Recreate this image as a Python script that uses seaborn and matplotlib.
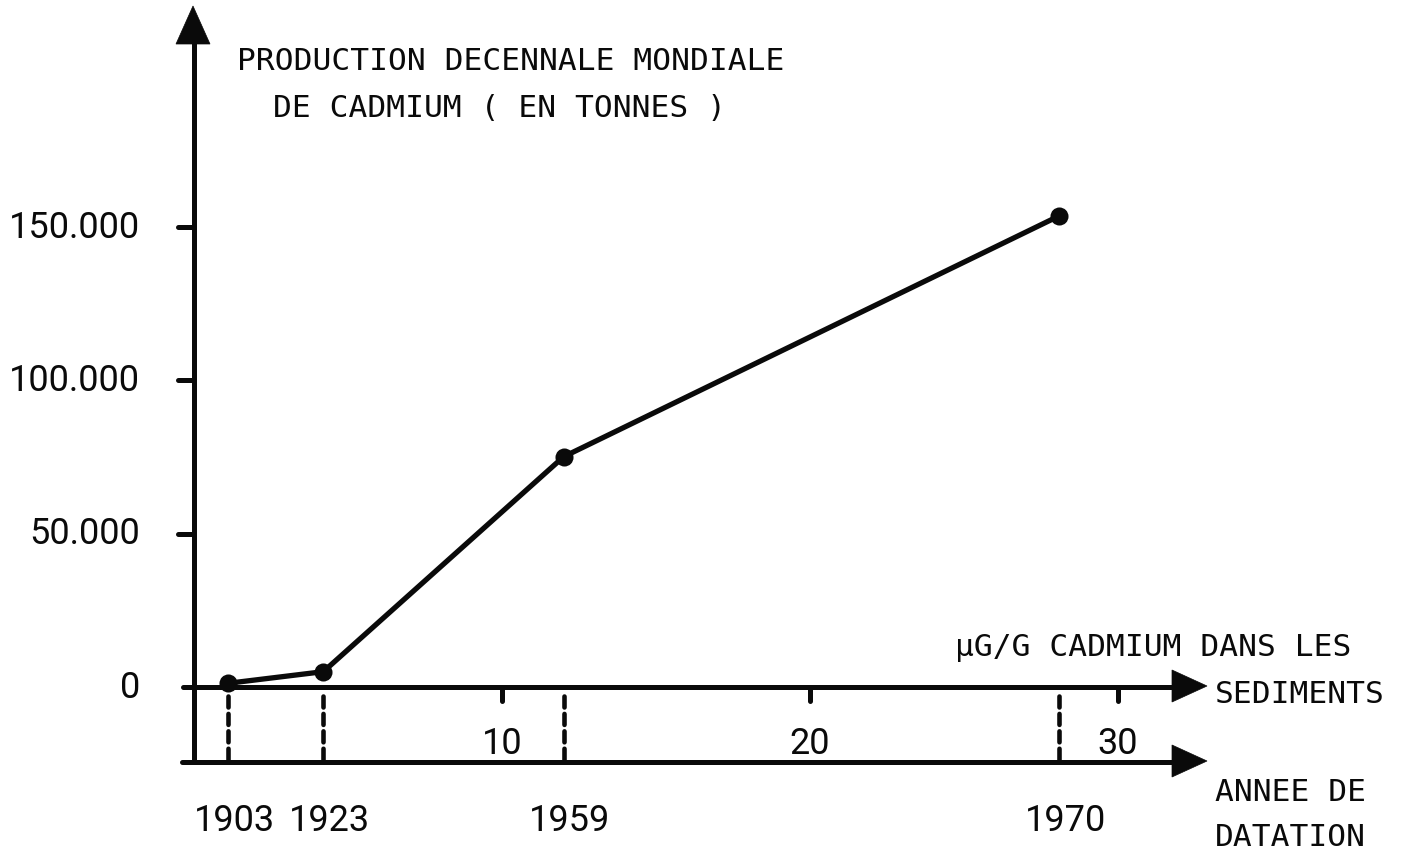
import pandas as pd
import seaborn as sns
import matplotlib.pyplot as plt
from matplotlib.patches import Polygon

# data
cadmium_sed = [1.1, 4.2, 12.0, 28.1]          # ug/g cadmium dans les sediments
production = [1200, 5000, 75000, 153500]      # production decennale (tonnes)
years = ['1903', '1923', '1959', '1970']
y_ticks = [0, 50000, 100000, 150000]
y_tick_labels = ['0', '50.000', '100.000', '150.000']
x_ticks = [10, 20, 30]
x_tick_labels = ['10', '20', '30']

df = pd.DataFrame({'sed': cadmium_sed, 'prod': production})

# picture scale (pixel of the origin, pixels per unit)
W, H = 1401, 851
X0, Y0 = 194, 687
SX = 30.8
SY = 0.00307

def dx(px):
    return (px - X0) / SX

def dy(py):
    return (Y0 - py) / SY

sns.set_theme(style='white')
num_font, num_size = 'Roboto', 26
mono = 'DejaVu Sans Mono'
mono_size = 22.5
ink = '#0a0a0a'
lw = 3.6

fig = plt.figure(figsize=(W / 100, H / 100), dpi=100)
ax = fig.add_axes([0, 0, 1, 1])
ax.set_xlim(dx(0), dx(W))
ax.set_ylim(dy(H), dy(0))
ax.axis('off')

# axes drawn by hand
ax.plot([0, 0], [dy(763), dy(40)], color=ink, lw=lw, solid_capstyle='butt')
ax.plot([dx(183), dx(1176)], [0, 0], color=ink, lw=lw, solid_capstyle='round')
year_y = dy(762)
ax.plot([dx(182), dx(1176)], [year_y, year_y], color=ink, lw=lw, solid_capstyle='round')

def head(pts):
    ax.add_patch(Polygon([(dx(a), dy(b)) for a, b in pts], closed=True,
                         facecolor=ink, edgecolor=ink, lw=0.5))

head([(193, 6), (176, 44), (210, 44)])
head([(1207, 686), (1172, 670), (1172, 702)])
head([(1207, 761), (1172, 745), (1172, 777)])

# ticks
for v in y_ticks[1:]:
    ax.plot([dx(178), 0], [v, v], color=ink, lw=lw, solid_capstyle='round')
for v in x_ticks:
    ax.plot([v, v], [0, dy(701)], color=ink, lw=lw, solid_capstyle='round')

# dashed lines down to the year axis
for x in cadmium_sed:
    ax.plot([x, x], [dy(696), dy(760)], color=ink, lw=3.3, ls=(0, (2.4, 1.4)),
            dash_capstyle='round')

# the curve
sns.lineplot(data=df, x='sed', y='prod', ax=ax, color=ink, lw=3.8,
             marker='o', markersize=13, markeredgewidth=0)

# labels
for v, lab in zip(y_ticks, y_tick_labels):
    ax.text(dx(140), v - 11 / SY, lab, ha='right', va='baseline',
            fontsize=num_size, family=num_font, color=ink)
for v, lab in zip(x_ticks, x_tick_labels):
    ax.text(v, dy(754), lab, ha='center', va='baseline',
            fontsize=num_size, family=num_font, color=ink)
for x, lab in zip(cadmium_sed, years):
    ax.text(x + 0.2, dy(831), lab, ha='center', va='baseline',
            fontsize=num_size, family=num_font, color=ink)

ax.text(dx(237), dy(70), 'PRODUCTION DECENNALE MONDIALE', ha='left', va='baseline',
        fontsize=mono_size, family=mono, color=ink)
ax.text(dx(273), dy(117), 'DE CADMIUM ( EN TONNES )', ha='left', va='baseline',
        fontsize=mono_size, family=mono, color=ink)
ax.text(dx(955), dy(656), 'µG/G CADMIUM DANS LES', ha='left', va='baseline',
        fontsize=mono_size, family=mono, color=ink)
ax.text(dx(1215), dy(703), 'SEDIMENTS', ha='left', va='baseline',
        fontsize=mono_size, family=mono, color=ink)
ax.text(dx(1215), dy(801), 'ANNEE DE', ha='left', va='baseline',
        fontsize=mono_size, family=mono, color=ink)
ax.text(dx(1215), dy(846), 'DATATION', ha='left', va='baseline',
        fontsize=mono_size, family=mono, color=ink)

fig.savefig('out.png', dpi=100, facecolor='white')
